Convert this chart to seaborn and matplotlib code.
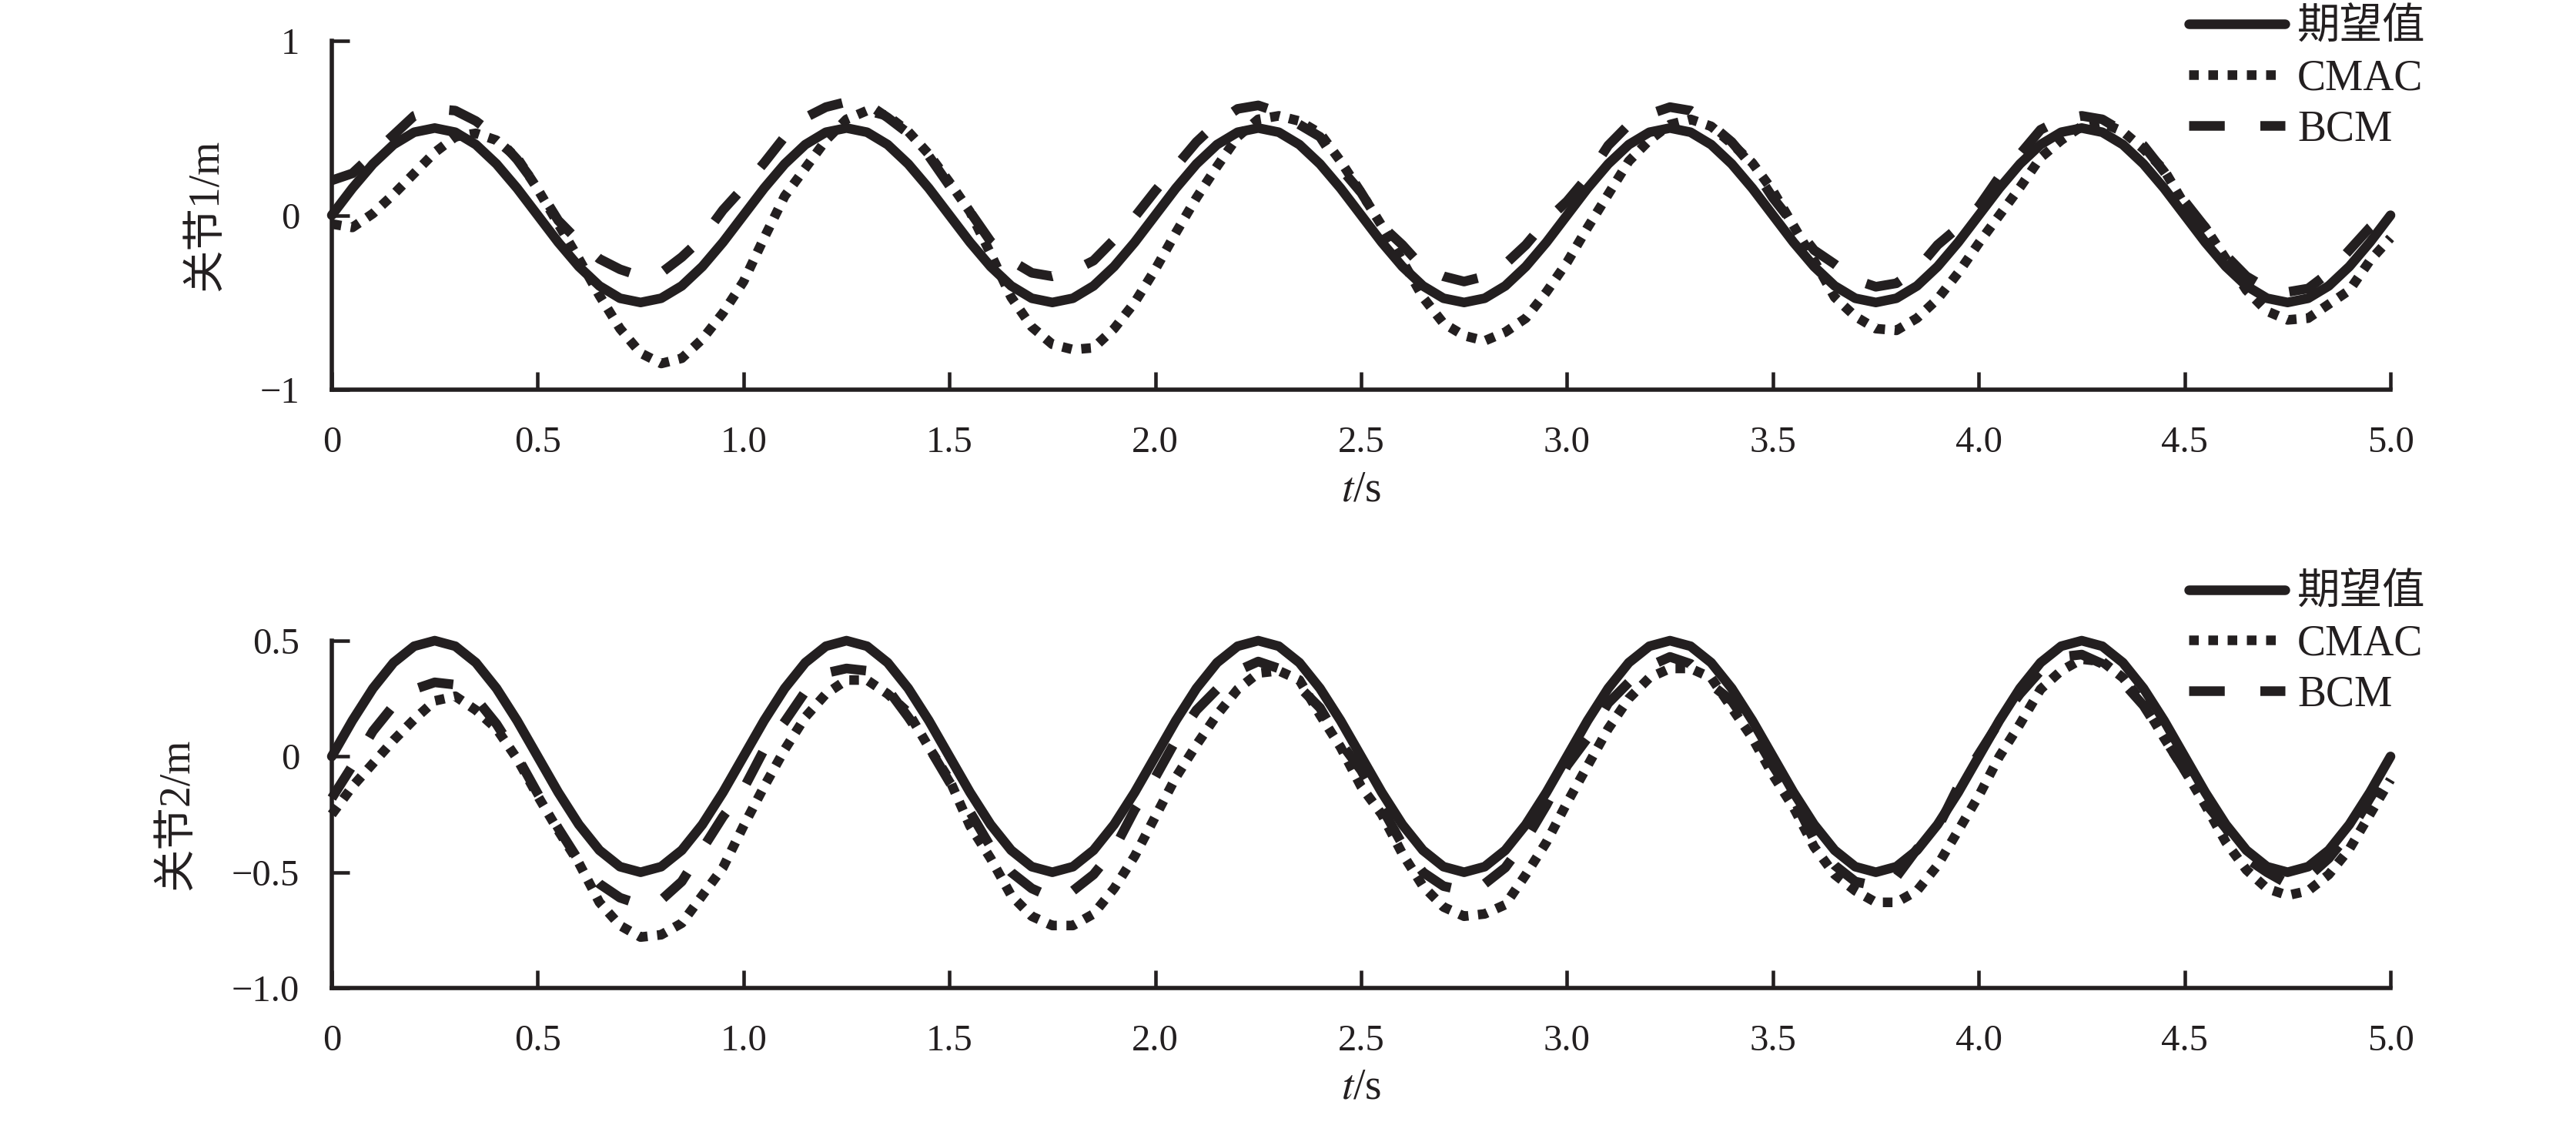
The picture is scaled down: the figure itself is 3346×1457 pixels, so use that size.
# Tracking of two joints: desired trajectory vs. CMAC and BCM controllers.
import numpy as np
import pandas as pd
import matplotlib
matplotlib.use('Agg')
import matplotlib.pyplot as plt
import seaborn as sns

# Time axis (s), sampled every 0.05 s
t = np.round(np.arange(101) * 0.05, 2)

# Desired trajectory (same for both joints)
desired = [
    0.000, 0.155, 0.294, 0.405, 0.476, 0.500, 0.476, 0.405, 0.294, 0.155,
    0.000, -0.155, -0.294, -0.405, -0.476, -0.500, -0.476, -0.405, -0.294, -0.155,
    0.000, 0.155, 0.294, 0.405, 0.476, 0.500, 0.476, 0.405, 0.294, 0.155,
    0.000, -0.155, -0.294, -0.405, -0.476, -0.500, -0.476, -0.405, -0.294, -0.155,
    0.000, 0.155, 0.294, 0.405, 0.476, 0.500, 0.476, 0.405, 0.294, 0.155,
    0.000, -0.155, -0.294, -0.405, -0.476, -0.500, -0.476, -0.405, -0.294, -0.155,
    0.000, 0.155, 0.294, 0.405, 0.476, 0.500, 0.476, 0.405, 0.294, 0.155,
    0.000, -0.155, -0.294, -0.405, -0.476, -0.500, -0.476, -0.405, -0.294, -0.155,
    0.000, 0.155, 0.294, 0.405, 0.476, 0.500, 0.476, 0.405, 0.294, 0.155,
    0.000, -0.155, -0.294, -0.405, -0.476, -0.500, -0.476, -0.405, -0.294, -0.155,
    0.000,
]

# Joint 1
joint1_cmac = [
    -0.05, -0.07, 0.01, 0.12, 0.24, 0.36, 0.45, 0.47, 0.43, 0.33,
    0.15, -0.05, -0.25, -0.46, -0.65, -0.79, -0.85, -0.82, -0.71, -0.56,
    -0.38, -0.13, 0.11, 0.27, 0.43, 0.55, 0.60, 0.57, 0.48, 0.35,
    0.19, 0.02, -0.22, -0.47, -0.64, -0.74, -0.77, -0.76, -0.65, -0.50,
    -0.31, -0.10, 0.10, 0.28, 0.45, 0.55, 0.57, 0.54, 0.47, 0.31,
    0.13, -0.06, -0.26, -0.47, -0.62, -0.69, -0.72, -0.67, -0.59, -0.44,
    -0.27, -0.07, 0.12, 0.31, 0.43, 0.52, 0.55, 0.51, 0.41, 0.30,
    0.14, -0.06, -0.26, -0.47, -0.58, -0.65, -0.66, -0.59, -0.48, -0.33,
    -0.16, 0.00, 0.16, 0.33, 0.43, 0.51, 0.53, 0.48, 0.38, 0.26,
    0.06, -0.07, -0.25, -0.43, -0.55, -0.60, -0.59, -0.51, -0.43, -0.26,
    -0.13,
]
joint1_bcm = [
    0.20, 0.24, 0.35, 0.46, 0.57, 0.61, 0.60, 0.54, 0.45, 0.32,
    0.16, -0.03, -0.15, -0.25, -0.31, -0.35, -0.33, -0.24, -0.13, 0.03,
    0.16, 0.30, 0.45, 0.56, 0.62, 0.65, 0.64, 0.56, 0.47, 0.34,
    0.17, 0.02, -0.15, -0.26, -0.33, -0.35, -0.32, -0.26, -0.14, -0.01,
    0.14, 0.28, 0.42, 0.53, 0.61, 0.63, 0.59, 0.52, 0.45, 0.27,
    0.13, -0.06, -0.17, -0.30, -0.35, -0.38, -0.35, -0.28, -0.17, -0.03,
    0.08, 0.22, 0.40, 0.52, 0.58, 0.62, 0.60, 0.52, 0.42, 0.28,
    0.10, -0.05, -0.20, -0.28, -0.37, -0.41, -0.39, -0.31, -0.17, -0.07,
    0.05, 0.22, 0.35, 0.49, 0.55, 0.57, 0.55, 0.48, 0.40, 0.25,
    0.08, -0.07, -0.23, -0.35, -0.42, -0.44, -0.42, -0.33, -0.20, -0.07,
    0.03,
]

# Joint 2
joint2_cmac = [
    -0.25, -0.13, -0.03, 0.07, 0.16, 0.24, 0.26, 0.20, 0.12, -0.01,
    -0.17, -0.32, -0.46, -0.63, -0.73, -0.78, -0.77, -0.72, -0.60, -0.48,
    -0.30, -0.13, 0.03, 0.17, 0.27, 0.33, 0.33, 0.27, 0.19, 0.04,
    -0.10, -0.30, -0.44, -0.60, -0.69, -0.73, -0.73, -0.68, -0.57, -0.43,
    -0.26, -0.09, 0.05, 0.18, 0.29, 0.36, 0.37, 0.33, 0.18, 0.04,
    -0.13, -0.25, -0.42, -0.56, -0.65, -0.69, -0.68, -0.64, -0.51, -0.37,
    -0.20, -0.04, 0.12, 0.25, 0.34, 0.38, 0.38, 0.34, 0.21, 0.08,
    -0.08, -0.22, -0.39, -0.51, -0.58, -0.63, -0.63, -0.58, -0.47, -0.32,
    -0.17, 0.00, 0.14, 0.29, 0.37, 0.42, 0.41, 0.34, 0.23, 0.08,
    -0.06, -0.21, -0.37, -0.49, -0.57, -0.60, -0.58, -0.51, -0.40, -0.25,
    -0.10,
]
joint2_bcm = [
    -0.18, -0.04, 0.11, 0.22, 0.29, 0.32, 0.31, 0.25, 0.14, 0.00,
    -0.16, -0.31, -0.45, -0.55, -0.61, -0.64, -0.62, -0.54, -0.40, -0.26,
    -0.14, 0.03, 0.15, 0.28, 0.36, 0.38, 0.37, 0.29, 0.17, 0.04,
    -0.11, -0.24, -0.39, -0.50, -0.57, -0.61, -0.58, -0.51, -0.40, -0.23,
    -0.09, 0.07, 0.20, 0.29, 0.37, 0.41, 0.38, 0.30, 0.21, 0.06,
    -0.06, -0.22, -0.38, -0.50, -0.56, -0.58, -0.55, -0.48, -0.36, -0.21,
    -0.04, 0.08, 0.23, 0.32, 0.39, 0.43, 0.40, 0.31, 0.24, 0.11,
    -0.04, -0.18, -0.36, -0.47, -0.54, -0.56, -0.52, -0.40, -0.31, -0.13,
    0.01, 0.15, 0.27, 0.37, 0.43, 0.44, 0.40, 0.32, 0.22, 0.08,
    -0.06, -0.20, -0.31, -0.44, -0.50, -0.55, -0.52, -0.44, -0.33, -0.18,
    -0.04,
]

series_names = ['期望值', 'CMAC', 'BCM']
x_ticks = [0, 0.5, 1.0, 1.5, 2.0, 2.5, 3.0, 3.5, 4.0, 4.5, 5.0]
x_tick_labels = ['0', '0.5', '1.0', '1.5', '2.0', '2.5', '3.0', '3.5', '4.0', '4.5', '5.0']
y1_ticks = [-1, 0, 1]
y1_tick_labels = ['\u22121', '0', '1']
y2_ticks = [-1.0, -0.5, 0, 0.5]
y2_tick_labels = ['\u22121.0', '\u22120.5', '0', '0.5']

sns.set_theme(style='ticks')
plt.rcParams['font.family'] = ['Liberation Serif', 'Noto Sans CJK SC']
plt.rcParams['mathtext.fontset'] = 'stix'

ink = '#231f20'
lw = 9
styles = {
    '期望值': dict(linestyle='-', solid_capstyle='round', solid_joinstyle='round'),
    'CMAC': dict(linestyle=(0, (1.0, 1.0)), dash_capstyle='butt', dash_joinstyle='round'),
    'BCM': dict(linestyle=(0, (3.7, 3.7)), dash_capstyle='butt', dash_joinstyle='round'),
}

fig = plt.figure(figsize=(33.46, 14.57), dpi=100)
ax1 = fig.add_axes([0.1288, 0.6527, 0.7992, 0.3109])
ax2 = fig.add_axes([0.1288, 0.1194, 0.7992, 0.3096])

panels = [
    (ax1, pd.DataFrame({'t': t, '期望值': desired, 'CMAC': joint1_cmac, 'BCM': joint1_bcm}),
     '关节1/m', (-1, 1), y1_ticks, y1_tick_labels, -0.0512, 0.9925),
    (ax2, pd.DataFrame({'t': t, '期望值': desired, 'CMAC': joint2_cmac, 'BCM': joint2_bcm}),
     '关节2/m', (-1, 0.5), y2_ticks, y2_tick_labels, -0.0654, 0.4887),
]

for ax, df, ylabel, ylim, yt, ytl, ylab_x, leg_y in panels:
    for name in series_names:
        sns.lineplot(data=df, x='t', y=name, ax=ax, color=ink, linewidth=lw,
                     label=name, clip_on=False, **styles[name])
    ax.set_xlim(0, 5)
    ax.set_ylim(*ylim)
    ax.set_xticks(x_ticks)
    ax.set_xticklabels(x_tick_labels)
    ax.set_yticks(yt)
    ax.set_yticklabels(ytl)
    sns.despine(ax=ax)
    for side in ['left', 'bottom']:
        ax.spines[side].set_linewidth(4)
        ax.spines[side].set_color(ink)
    ax.tick_params(axis='both', direction='in', length=16.5, width=3.3,
                   colors=ink, labelsize=35)
    ax.tick_params(axis='x', pad=34)
    ax.tick_params(axis='y', pad=30)
    ax.set_xlabel('$t$/s', fontsize=40, color=ink)
    ax.xaxis.set_label_coords(0.5, -0.23)
    ax.set_ylabel(ylabel, fontsize=40, color=ink)
    ax.yaxis.set_label_coords(ylab_x, 0.5)
    ax.legend(loc='upper left', bbox_to_anchor=(0.8497, leg_y),
              bbox_transform=fig.transFigure, frameon=False, fontsize=40,
              handlelength=2.24, handletextpad=0.3, labelspacing=0.25,
              borderpad=0, borderaxespad=0, labelcolor=ink)

fig.savefig('out.png', dpi=100)
